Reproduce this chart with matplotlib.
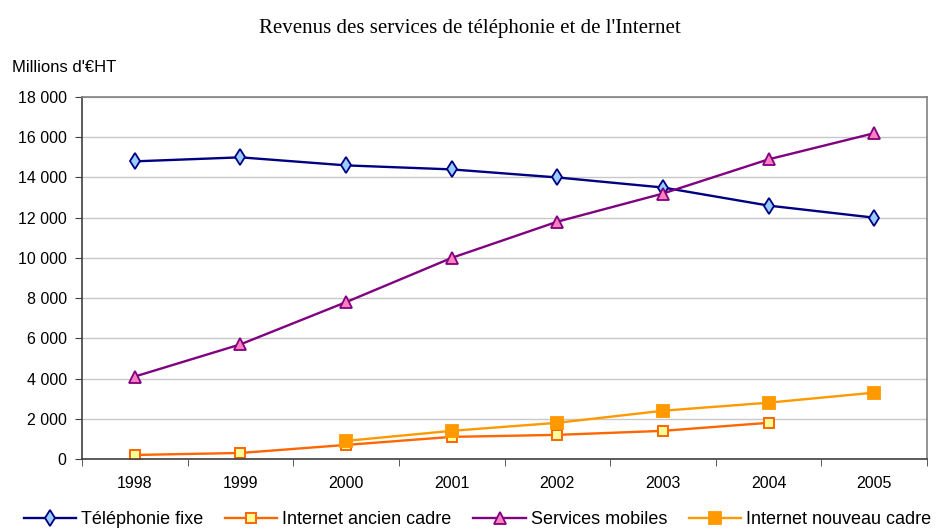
import matplotlib.pyplot as plt
import numpy as np
from matplotlib.ticker import FuncFormatter

years = ["1998", "1999", "2000", "2001", "2002", "2003", "2004", "2005"]
fixe = [14800, 15000, 14600, 14400, 14000, 13500, 12600, 12000]
internet_ancien = [200, 300, 700, 1100, 1200, 1400, 1800, None]
mobiles = [4100, 5700, 7800, 10000, 11800, 13200, 14900, 16200]
internet_nouveau = [None, None, 900, 1400, 1800, 2400, 2800, 3300]

plt.rcParams['font.family'] = ['Liberation Sans', 'DejaVu Sans']


def to_arr(vals):
    return np.array([np.nan if v is None else v for v in vals], dtype=float)


fig = plt.figure(figsize=(9.4, 5.31), dpi=100)
ax = fig.add_axes([82 / 940, 1 - 459 / 531, 845 / 940, 362 / 531])

x = np.arange(len(years))
ax.plot(x, to_arr(fixe), color='#000080', lw=1.7, marker='d', ms=8.5,
        mfc='#99CCFF', mec='#000080', mew=1.3, label='Téléphonie fixe')
ax.plot(x, to_arr(internet_ancien), color='#FF6600', lw=1.7, marker='s', ms=7.5,
        mfc='#FFFF99', mec='#FF6600', mew=1.4, label='Internet ancien cadre')
ax.plot(x, to_arr(mobiles), color='#800080', lw=1.7, marker='^', ms=9,
        mfc='#FF80C0', mec='#800080', mew=1.3, label='Services mobiles')
ax.plot(x, to_arr(internet_nouveau), color='#FF9900', lw=1.7, marker='s', ms=8,
        mfc='#FF9900', mec='#FF9900', mew=1.3, label='Internet nouveau cadre')

ax.set_xlim(-0.5, len(years) - 0.5)
ax.set_ylim(0, 18000)
ax.set_yticks(np.arange(0, 18001, 2000))
ax.yaxis.set_major_formatter(FuncFormatter(lambda v, p: f"{int(v):,}".replace(",", " ")))
ax.set_xticks(x)
ax.set_xticklabels(years)
ax.set_xticks(np.arange(-0.5, len(years), 1), minor=True)
ax.tick_params(axis='x', which='major', length=0, pad=12, labelsize=11.5)
ax.tick_params(axis='x', which='minor', length=5, color='#404040', direction='out')
ax.tick_params(axis='y', length=5, color='#404040', direction='out', labelsize=11.5, pad=6)

ax.grid(axis='y', color='#C8C8C8', lw=1)
ax.set_axisbelow(True)
for s in ['left', 'bottom']:
    ax.spines[s].set_color('#404040')
    ax.spines[s].set_linewidth(1.2)
for s in ['top', 'right']:
    ax.spines[s].set_color('#808080')
    ax.spines[s].set_linewidth(1.2)

fig.text(0.5, 1 - 28 / 531, "Revenus des services de téléphonie et de l'Internet",
         ha='center', va='center', fontsize=15, family=['Liberation Serif', 'DejaVu Serif'])
fig.text(12 / 940, 1 - 68 / 531, "Millions d'€HT", ha='left', va='center', fontsize=12)

fig.legend(loc='center', bbox_to_anchor=(0.508, 1 - 520 / 531), ncol=4, frameon=False,
           fontsize=13, handlelength=2.9, columnspacing=1.2, handletextpad=0.28,
           borderaxespad=0, borderpad=0)

fig.savefig('out.png', dpi=100)
